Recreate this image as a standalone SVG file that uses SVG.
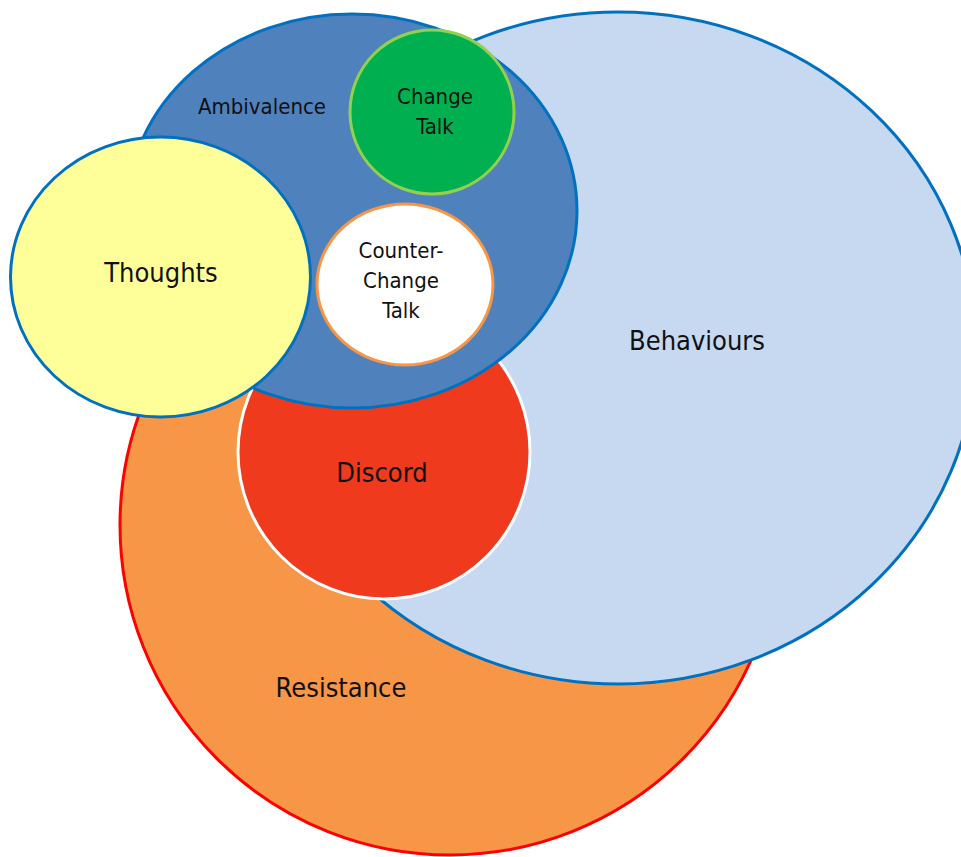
<svg xmlns="http://www.w3.org/2000/svg" width="961" height="857" viewBox="0 0 961 857">
  <style>
    .lbl { font-family: "DejaVu Sans Condensed", "DejaVu Sans", sans-serif; font-stretch: condensed; fill: #111; text-anchor: middle; }
    .big { font-size: 27px; }
    .small { font-size: 22px; }
    .ring { stroke-width: 3; }
  </style>
  <rect width="961" height="857" fill="#ffffff"/>

  <g id="resistance">
    <ellipse class="ring" cx="450" cy="525" rx="330" ry="330" fill="#F79646" stroke="#FF0000"/>
    <text class="lbl big" x="341" y="697">Resistance</text>
  </g>

  <g id="behaviours">
    <ellipse class="ring" cx="618" cy="348" rx="358" ry="336" fill="#C6D9F1" stroke="#0070C0"/>
    <text class="lbl big" x="697" y="350">Behaviours</text>
  </g>

  <g id="discord">
    <ellipse class="ring" cx="384" cy="452" rx="146" ry="147" fill="#F03A1E" stroke="#FFFFFF"/>
    <text class="lbl big" x="382" y="482">Discord</text>
  </g>

  <g id="ambivalence">
    <ellipse class="ring" cx="352" cy="211" rx="225" ry="197" fill="#4F81BD" stroke="#0070C0"/>
    <text class="lbl small" x="262" y="114">Ambivalence</text>
  </g>

  <g id="thoughts">
    <ellipse class="ring" cx="160.5" cy="277" rx="150" ry="140" fill="#FFFF99" stroke="#0070C0"/>
    <text class="lbl big" x="161" y="282">Thoughts</text>
  </g>

  <g id="change-talk">
    <ellipse class="ring" cx="432" cy="112" rx="82" ry="82" fill="#00B050" stroke="#92D050"/>
    <text class="lbl small" x="435" y="104">Change</text>
    <text class="lbl small" x="435" y="134">Talk</text>
  </g>

  <g id="counter-change-talk">
    <ellipse class="ring" cx="405" cy="284.5" rx="88" ry="80.5" fill="#FFFFFF" stroke="#F79646"/>
    <text class="lbl small" x="401" y="258">Counter-</text>
    <text class="lbl small" x="401" y="288">Change</text>
    <text class="lbl small" x="401" y="318">Talk</text>
  </g>

  <g id="connectors"/>
</svg>
